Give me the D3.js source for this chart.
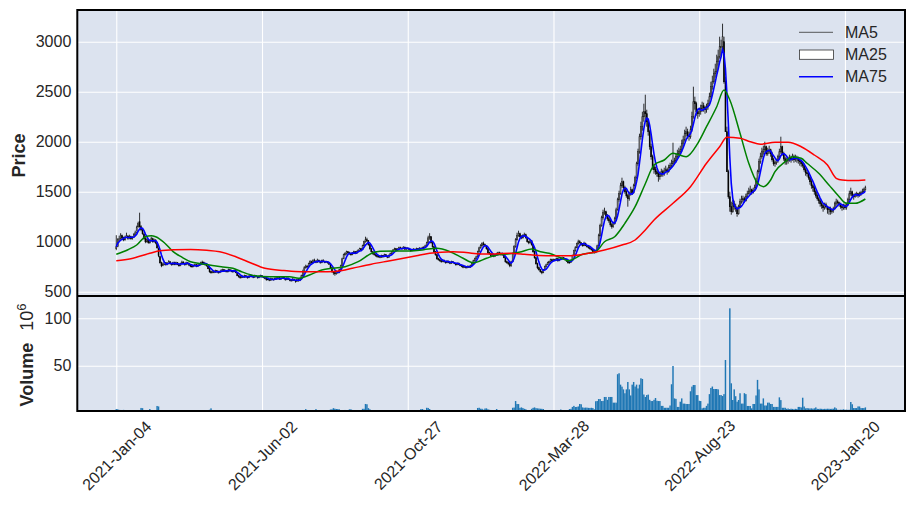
<!DOCTYPE html>
<html><head><meta charset="utf-8">
<script src="https://cdn.jsdelivr.net/npm/d3@7"></script>
<style>body{margin:0;background:#fff;} text{font-family:"Liberation Sans",Arial,sans-serif;}</style>
</head><body><svg id="c" width="914" height="506"></svg>
<script>
const dateTicks = ["2021-Jan-04","2021-Jun-02","2021-Oct-27","2022-Mar-28","2022-Aug-23","2023-Jan-20"];
const dateTickIdx = [0,100,200,300,400,500];
const priceTicks = [500,1000,1500,2000,2500,3000];
const volTicks = [50,100];
const legendLabels = ["MA5","MA25","MA75"];

const open = [
930,955,1025,1030,1060,1040,1020,1045,1055,1040,
1050,1030,1045,1070,1095,1150,1200,1150,1115,1075,
1030,1000,1020,990,1010,1030,1000,1015,985,935,
850,790,765,775,790,770,785,800,780,770,
790,775,790,770,760,780,795,785,770,790,
780,765,755,750,760,770,755,765,775,790,
795,780,770,755,730,700,690,705,695,710,
700,690,700,715,720,705,710,700,720,715,
705,700,710,690,660,650,640,655,645,660,
650,640,655,665,650,645,660,650,640,655,
660,650,640,635,620,625,615,630,620,625,
635,630,640,625,635,645,630,620,635,625,
615,610,625,615,605,620,610,630,660,700,
740,755,750,780,800,790,810,805,795,815,
800,790,810,805,795,800,790,775,740,700,
690,680,700,690,720,760,830,870,880,900,
890,880,870,890,900,885,900,915,930,920,
960,1000,1020,1010,970,930,900,880,870,860,
850,855,845,860,850,870,855,845,865,880,
900,920,930,915,925,940,935,930,945,925,
935,930,920,910,915,925,920,930,925,935,
930,940,945,960,990,1040,1050,990,950,900,
870,830,820,810,800,815,800,790,805,795,
785,800,790,780,770,785,770,760,755,745,
750,740,755,745,760,780,810,830,850,900,
940,960,980,970,960,930,890,880,860,870,
855,870,880,890,885,870,880,840,800,790,
780,760,800,880,950,1020,1060,1080,1050,1040,
1060,1070,1040,1000,990,1010,970,900,840,780,
740,720,700,690,720,750,770,790,800,820,
810,820,815,830,810,825,835,840,830,820,
805,790,795,810,860,910,940,980,1000,990,
970,960,985,960,950,940,930,920,900,895,
900,960,1060,1160,1240,1290,1300,1260,1230,1210,
1170,1150,1180,1230,1320,1420,1480,1560,1600,1540,
1500,1460,1430,1480,1520,1490,1560,1640,1780,1900,
2050,2150,2250,2300,2280,2200,2100,1950,1850,1750,
1720,1700,1680,1650,1670,1700,1680,1710,1720,1700,
1740,1760,1780,1800,1810,1850,1880,1900,1920,1980,
2020,2080,2100,2060,2050,2120,2250,2400,2380,2300,
2280,2300,2330,2360,2340,2320,2350,2380,2450,2550,
2600,2680,2700,2800,2850,2950,2950,3000,2600,2100,
1700,1450,1350,1300,1380,1350,1330,1280,1350,1400,
1420,1430,1410,1450,1480,1500,1520,1490,1510,1540,
1600,1700,1800,1850,1900,1920,1950,1880,1900,1920,
1880,1820,1780,1790,1810,1850,1900,1950,1880,1830,
1800,1810,1820,1840,1830,1850,1820,1840,1830,1810,
1800,1780,1760,1720,1690,1680,1640,1600,1560,1540,
1500,1460,1430,1410,1380,1360,1340,1370,1350,1320,
1330,1300,1310,1330,1380,1400,1390,1370,1350,1340,
1360,1340,1370,1420,1480,1500,1460,1450,1470,1480,
1460,1480,1490,1500,1520];

const high = [
1065,1035,1060,1085,1070,1050,1060,1090,1065,1070,
1060,1055,1085,1110,1160,1200,1290,1165,1130,1090,
1045,1035,1030,1020,1050,1040,1030,1025,995,940,
860,800,790,800,795,795,815,805,790,800,
800,800,795,780,790,810,805,790,800,795,
790,775,765,770,780,775,775,785,800,810,
800,790,775,760,735,710,715,710,720,715,
710,710,725,730,725,720,715,730,725,720,
715,720,715,695,670,660,665,660,670,665,
660,665,675,670,655,670,665,655,665,670,
665,655,650,640,635,630,640,635,630,645,
645,650,645,640,655,650,635,640,640,630,
620,635,630,620,630,625,640,670,720,755,
770,765,790,815,810,825,830,815,830,820,
810,820,825,810,810,805,795,780,745,705,
700,710,705,730,770,840,880,895,910,905,
900,885,895,910,905,910,925,940,935,970,
1010,1050,1040,1015,975,935,905,890,875,865,
865,860,870,865,880,875,860,870,890,905,
925,940,935,935,950,950,940,955,950,945,
945,935,925,925,935,930,940,935,945,940,
950,955,970,1000,1060,1085,1055,995,955,905,
875,840,830,815,825,820,805,815,810,800,
810,805,795,785,790,790,775,765,760,760,
755,760,760,770,790,820,840,860,910,950,
975,995,1000,980,965,935,900,885,880,875,
880,890,900,900,890,890,885,845,810,800,
790,810,890,965,1035,1090,1110,1090,1065,1075,
1090,1080,1050,1010,1020,1015,975,910,845,790,
750,725,710,725,760,780,800,810,830,830,
830,830,840,835,830,845,850,845,835,825,
810,805,820,870,920,955,990,1020,1015,995,
980,1000,990,965,955,950,935,925,910,910,
970,1080,1180,1260,1320,1340,1310,1275,1250,1220,
1190,1200,1250,1340,1440,1510,1590,1640,1610,1560,
1520,1480,1500,1550,1530,1580,1660,1800,1930,2080,
2200,2300,2380,2470,2320,2220,2120,1980,1870,1780,
1750,1730,1700,1700,1730,1720,1740,1760,1740,1770,
1790,1820,1990,1840,1880,1920,1940,1960,2020,2060,
2120,2150,2130,2100,2160,2300,2550,2450,2400,2330,
2340,2370,2400,2390,2360,2380,2420,2490,2600,2660,
2730,2780,2870,2920,3050,3020,3180,3050,2650,2150,
1720,1500,1400,1420,1410,1380,1350,1370,1430,1460,
1460,1450,1480,1510,1540,1560,1530,1540,1570,1640,
1720,1830,1890,1940,1960,2000,1960,1940,1960,1930,
1900,1840,1810,1830,1870,1930,2050,1960,1900,1850,
1840,1850,1870,1860,1880,1870,1870,1860,1850,1830,
1820,1800,1780,1740,1720,1700,1660,1620,1580,1560,
1520,1480,1450,1420,1400,1380,1390,1390,1360,1350,
1350,1330,1350,1400,1430,1420,1400,1390,1370,1380,
1380,1390,1440,1510,1540,1510,1480,1490,1500,1490,
1500,1510,1530,1540,1560];

const low = [
915,945,1000,1020,1025,1005,1010,1035,1020,1025,
1020,1020,1040,1060,1085,1140,1140,1105,1070,1020,
985,990,980,980,1000,990,990,975,930,845,
780,745,755,765,760,765,780,770,760,765,
765,765,765,750,755,775,780,760,765,770,
755,745,740,745,755,745,750,760,770,785,
770,760,750,725,690,680,685,685,690,690,
680,685,695,705,700,695,690,695,705,695,
690,695,685,655,640,630,635,640,640,640,
630,635,650,645,635,640,645,630,635,650,
645,635,625,610,615,605,610,615,610,620,
620,625,620,620,630,625,610,615,620,605,
600,605,610,590,600,600,605,625,650,690,
730,735,745,775,780,785,795,785,790,795,
780,785,795,785,790,780,770,730,690,670,
660,670,680,685,715,755,825,860,870,880,
870,860,865,885,875,880,895,910,910,915,
955,990,995,960,920,890,870,860,850,840,
840,835,840,840,845,850,835,840,860,875,
895,915,905,910,920,925,920,925,920,920,
925,915,900,905,910,910,915,915,920,920,
925,935,940,955,985,1020,980,940,890,860,
820,810,800,790,795,790,780,785,785,775,
780,785,775,760,765,765,755,745,735,740,
730,735,740,740,755,775,800,825,845,895,
930,950,960,945,920,880,870,850,855,845,
850,860,870,875,860,860,835,790,780,765,
745,750,795,870,940,1010,1050,1040,1025,1030,
1050,1030,990,975,980,960,890,830,770,725,
710,690,675,685,715,745,765,780,795,800,
805,805,810,800,805,820,825,825,815,800,
780,780,790,805,855,900,935,970,980,960,
950,955,955,940,930,920,910,890,880,885,
895,955,1050,1150,1220,1270,1250,1210,1190,1150,
1130,1140,1170,1220,1310,1400,1470,1540,1520,1480,
1440,1350,1410,1460,1470,1480,1550,1630,1760,1880,
2020,2110,2200,2220,2150,2060,1920,1820,1720,1680,
1670,1650,1600,1620,1650,1650,1660,1690,1670,1690,
1720,1740,1760,1770,1790,1830,1850,1870,1900,1950,
2000,2050,2030,2010,2030,2100,2230,2320,2260,2230,
2250,2270,2300,2300,2280,2290,2320,2360,2430,2520,
2580,2640,2680,2760,2830,2860,2920,2580,2100,1700,
1430,1300,1270,1290,1320,1300,1250,1270,1340,1380,
1390,1390,1400,1440,1470,1480,1470,1480,1500,1530,
1590,1680,1780,1830,1870,1890,1860,1860,1880,1850,
1800,1760,1750,1770,1790,1830,1880,1860,1810,1770,
1770,1780,1800,1790,1810,1790,1800,1790,1780,1760,
1750,1740,1700,1660,1650,1620,1570,1530,1500,1470,
1440,1410,1380,1350,1330,1300,1320,1330,1280,1270,
1270,1280,1290,1320,1360,1370,1350,1330,1310,1320,
1320,1320,1360,1410,1460,1440,1420,1440,1450,1440,
1450,1460,1480,1490,1510];

const close = [
950,1020,1030,1065,1040,1020,1045,1060,1035,1050,
1030,1045,1070,1090,1140,1180,1150,1120,1080,1030,
1000,1020,990,1010,1030,1000,1015,990,940,860,
790,760,775,790,770,785,800,780,770,790,
775,790,770,760,780,795,785,770,790,780,
765,755,750,760,770,755,765,775,790,795,
780,770,760,730,700,690,705,695,710,700,
690,700,715,720,705,710,700,720,715,705,
700,710,690,660,650,640,655,645,660,650,
640,655,665,650,645,660,650,640,655,660,
650,640,635,620,625,615,630,620,625,635,
630,640,625,635,645,630,620,635,625,615,
610,625,615,605,620,610,630,660,700,740,
755,750,780,800,790,810,805,795,815,800,
790,810,805,795,800,790,775,740,700,690,
680,700,690,720,760,830,870,880,900,890,
880,870,890,900,885,900,915,930,920,960,
1000,1020,1010,970,930,900,880,870,860,850,
855,845,860,850,870,855,845,865,880,900,
920,930,915,925,940,935,930,945,925,935,
930,920,910,915,925,920,930,925,935,930,
940,945,960,990,1040,1050,990,950,900,870,
830,820,810,800,815,800,790,805,795,785,
800,790,780,770,785,770,760,755,745,750,
740,755,745,760,780,810,830,850,900,940,
960,980,970,960,930,890,880,860,870,855,
870,880,890,885,870,880,840,800,790,780,
760,800,880,950,1020,1060,1080,1050,1040,1060,
1070,1040,1000,990,1010,970,900,840,780,740,
720,700,690,720,750,770,790,800,820,810,
820,815,830,810,825,835,840,830,820,805,
790,795,810,860,910,940,980,1000,990,970,
960,985,960,950,940,930,920,900,895,900,
960,1060,1160,1240,1290,1300,1260,1230,1210,1170,
1150,1180,1230,1320,1420,1480,1560,1600,1540,1500,
1460,1430,1480,1520,1490,1560,1640,1780,1900,2050,
2150,2250,2300,2280,2200,2100,1950,1850,1750,1720,
1700,1680,1650,1670,1700,1680,1710,1720,1700,1740,
1760,1780,1800,1810,1850,1880,1900,1920,1980,2020,
2080,2100,2060,2050,2120,2250,2400,2380,2300,2280,
2300,2330,2360,2340,2320,2350,2380,2450,2550,2600,
2680,2700,2800,2850,2950,2950,3050,2600,2100,1700,
1450,1350,1300,1380,1350,1330,1280,1350,1400,1420,
1430,1410,1450,1480,1500,1520,1490,1510,1540,1600,
1700,1800,1850,1900,1920,1950,1880,1900,1920,1880,
1820,1780,1790,1810,1850,1900,1950,1880,1830,1800,
1810,1820,1840,1830,1850,1820,1840,1830,1810,1800,
1780,1760,1720,1690,1680,1640,1600,1560,1540,1500,
1460,1430,1410,1380,1360,1340,1370,1350,1320,1330,
1300,1310,1330,1380,1400,1390,1370,1350,1340,1360,
1340,1370,1420,1480,1500,1460,1450,1470,1480,1460,
1480,1490,1500,1520,1540];

const volume = [
4.2,4.0,3.4,3.3,3.2,3.4,3.1,3.0,1.8,1.6,
1.5,1.7,1.9,2.0,2.1,1.9,2.0,5.4,5.2,3.0,
1.8,1.6,2.0,4.3,3.0,1.7,1.5,1.9,7.5,7.0,
3.2,3.0,3.1,3.0,2.9,1.8,1.6,1.5,1.7,1.9,
3.0,2.9,1.7,1.5,1.6,3.0,1.8,1.5,1.6,3.1,
3.0,3.0,1.8,1.5,1.4,1.6,1.5,1.3,1.7,1.8,
1.6,1.4,1.5,1.9,3.5,5.0,2.0,3.0,1.6,1.4,
1.3,1.5,1.4,1.6,1.5,1.3,1.4,1.6,3.0,1.5,
1.4,1.3,1.5,1.8,1.9,3.2,3.0,3.0,1.6,1.4,
1.3,1.2,1.4,1.5,1.3,1.2,1.4,1.3,1.5,1.4,
1.3,1.2,1.4,1.6,1.5,1.3,1.2,1.4,1.3,1.5,
1.4,1.3,1.2,1.4,1.5,1.3,1.6,1.4,1.3,1.5,
1.6,1.4,1.3,1.8,1.5,1.4,1.7,2.0,3.0,3.2,
4.2,3.3,3.0,2.0,1.8,2.1,3.0,4.2,3.2,3.0,
2.0,1.8,1.9,1.7,1.8,2.1,3.0,3.8,4.0,5.2,
4.6,4.3,4.2,4.0,3.0,3.2,3.0,3.3,3.2,3.0,
4.0,4.0,3.3,3.2,2.0,1.9,1.8,2.0,2.1,4.5,
4.5,9.6,9.3,5.2,4.0,3.2,3.0,2.0,1.8,1.6,
1.7,1.5,1.6,1.4,1.5,1.8,1.6,1.5,1.7,1.9,
2.0,1.8,3.0,1.7,1.6,1.5,1.4,1.6,1.5,1.8,
3.0,3.0,3.0,1.9,1.7,1.6,1.8,1.9,2.0,4.2,
4.3,3.5,2.0,5.6,5.4,4.3,3.2,3.0,2.0,3.0,
3.0,3.0,1.9,1.8,1.6,1.5,1.7,1.6,1.4,1.5,
1.6,1.5,1.4,1.3,1.5,1.6,1.7,1.5,1.6,1.8,
1.7,1.6,1.9,2.0,2.1,2.0,1.9,2.1,5.4,5.6,
4.6,4.5,3.5,4.8,5.0,4.0,3.5,3.3,3.2,2.0,
3.0,4.3,1.8,1.9,2.0,3.0,1.9,1.8,2.0,2.1,
2.0,2.1,5.6,5.8,12.7,9.6,9.5,5.5,6.0,5.3,
4.5,4.0,2.0,2.1,2.0,4.5,5.5,6.0,5.2,5.0,
4.8,4.6,4.5,4.3,2.0,3.0,3.1,3.0,3.2,3.0,
3.1,3.0,3.2,3.0,2.9,3.8,3.0,3.1,3.0,3.2,
3.0,4.3,4.5,6.5,7.6,6.4,6.5,7.0,9.6,9.3,
6.0,5.6,5.8,5.7,5.5,5.4,5.6,5.3,4.0,12.5,
12.7,14.8,14.8,12.7,12.8,17.0,17.0,14.0,17.0,17.0,
17.0,11.0,11.0,11.0,41.0,42.0,30.0,27.9,25.0,20.9,
25.0,32.8,25.0,18.6,30.0,32.8,28.0,30.0,26.0,30.0,
36.7,36.0,19.6,17.0,19.0,19.5,14.0,12.7,12.7,14.0,
15.9,13.0,12.7,12.7,7.6,7.6,5.6,5.6,5.6,5.6,
8.0,30.4,49.7,15.5,15.0,6.5,6.5,12.0,15.5,10.0,
10.0,9.6,9.6,9.6,23.0,27.9,29.6,29.6,19.0,19.0,
13.0,12.7,5.0,5.6,5.6,7.6,10.0,20.0,26.5,28.0,
25.4,25.4,25.4,25.0,19.0,19.0,18.0,20.0,56.0,1.0,
1.0,110.5,31.4,13.8,25.0,17.8,12.0,13.8,20.9,10.0,
10.0,21.0,20.0,7.5,7.5,7.5,5.0,9.6,9.6,18.6,
35.0,25.0,10.0,10.0,15.5,8.0,8.0,11.0,11.0,9.6,
9.6,6.5,6.5,6.5,6.5,16.6,13.7,5.6,5.6,5.6,
4.5,4.8,4.2,4.6,4.4,4.0,4.5,4.3,6.5,6.5,
6.0,16.2,6.9,5.0,5.2,5.0,4.8,5.0,4.6,5.0,
6.0,4.5,4.4,4.6,4.5,4.3,4.5,4.4,4.6,4.5,
4.4,4.5,4.6,6.0,5.0,3.5,3.4,3.6,3.5,4.0,
3.5,3.6,3.4,3.5,11.7,9.3,5.3,5.3,5.3,7.0,
7.0,5.3,5.3,5.3,6.0];

// MA25 / MA75 at key trading-day indices
const ma25Idx = [0,8,14,20,24,27,33,39,45,51,58,64,72,80,86,95,105,119,125,133,141,149,157,166,176,181,192,202,211,220,229,238,245,254,261,270,278,285,291,297,304,310,320,329,335,342,349,356,363,369,376,382,391,399,405,412,417,421,428,434,440,444,449,452,459,464,470,474,482,489,495,501,507,514];
const ma25Val = [874,920,967,1050,1060,1050,990,900,845,800,780,767,750,734,700,660,650,650,634,670,717,735,750,800,890,905,907,907,920,934,900,834,790,834,867,880,900,927,900,884,845,810,874,900,1000,1050,1184,1350,1580,1767,1817,1884,1850,1984,2150,2350,2517,2417,2084,1784,1584,1550,1617,1700,1800,1850,1834,1784,1684,1567,1467,1384,1384,1427];
const ma75Idx = [0,10,23,30,40,51,62,71,82,92,102,115,127,145,155,162,175,186,197,206,215,231,240,250,260,270,280,290,300,312,324,335,347,356,363,369,382,394,405,414,419,428,435,442,452,461,470,479,488,494,498,506,514];
const ma75Val = [810,830,884,910,920,923,915,900,850,790,734,712,700,700,712,734,775,805,834,860,884,900,892,877,878,884,875,862,860,860,884,917,967,1017,1117,1217,1384,1550,1784,1950,2044,2034,2000,1975,1994,1994,1950,1867,1767,1634,1617,1612,1617];

const N = close.length;
const lens = [open.length, high.length, low.length, close.length, volume.length];
if (lens.some(l => l !== N)) throw new Error("length mismatch " + lens.join(","));
if (ma25Idx.length !== ma25Val.length || ma75Idx.length !== ma75Val.length) throw new Error("ma mismatch");

// MA5 computed from closes (rolling mean)
const ma5 = close.map((c, i) => d3.mean(close.slice(Math.max(0, i - 4), i + 1)));

const svg = d3.select("#c");
const L = 77.3, R = 905, T = 10, MID = 296, B = 411;
const W = R - L;
const bg = "#dce3ef";

const x = d3.scaleLinear().domain([-26.75, 541.2]).range([L, R]);
const yP = d3.scaleLinear().domain([457, 3317]).range([MID, T]);
const yV = d3.scaleLinear().domain([2.2, 123.5]).range([B, MID]);

const defs = svg.append("defs");
defs.append("clipPath").attr("id", "cp").append("rect").attr("x", L).attr("y", T).attr("width", W).attr("height", MID - T);
defs.append("clipPath").attr("id", "cv").append("rect").attr("x", L).attr("y", MID).attr("width", W).attr("height", B - MID);

svg.append("rect").attr("x", L).attr("y", T).attr("width", W).attr("height", B - T).attr("fill", bg);

// gridlines
const gridStyle = g => { g.select(".domain").remove(); g.selectAll("line").attr("stroke", "#fff").attr("stroke-width", 1.1); g.selectAll("text").remove(); };
svg.append("g").attr("transform", `translate(${L},0)`).call(d3.axisLeft(yP).tickValues(priceTicks).tickSize(-W)).call(gridStyle);
svg.append("g").attr("transform", `translate(${L},0)`).call(d3.axisLeft(yV).tickValues(volTicks).tickSize(-W)).call(gridStyle);
svg.append("g").attr("transform", `translate(0,${MID})`).call(d3.axisBottom(x).tickValues(dateTickIdx).tickSize(-(MID - T))).call(gridStyle);
svg.append("g").attr("transform", `translate(0,${B})`).call(d3.axisBottom(x).tickValues(dateTickIdx).tickSize(-(B - MID))).call(gridStyle);

// candles
const cg = svg.append("g").attr("clip-path", "url(#cp)");
const idx = d3.range(N);
cg.selectAll("line.w").data(idx).join("line")
  .attr("x1", i => x(i)).attr("x2", i => x(i))
  .attr("y1", i => yP(Math.max(high[i], open[i], close[i])))
  .attr("y2", i => yP(Math.min(low[i], open[i], close[i])))
  .attr("stroke", "#000").attr("stroke-width", 0.8);
cg.selectAll("rect.b").data(idx).join("rect")
  .attr("x", i => x(i) - 0.45).attr("width", 0.9)
  .attr("y", i => yP(Math.max(open[i], close[i])))
  .attr("height", i => Math.max(0.6, Math.abs(yP(open[i]) - yP(close[i]))))
  .attr("fill", i => close[i] >= open[i] ? "#fff" : "#000")
  .attr("stroke", "#000").attr("stroke-width", 0.6);

// moving averages
const lineIdx = d3.line().x((d) => x(d[0])).y(d => yP(d[1]));
cg.append("path").datum(ma5.map((v, i) => [i, v])).attr("d", lineIdx)
  .attr("fill", "none").attr("stroke", "#0000ff").attr("stroke-width", 1.6);
cg.append("path").datum(ma25Idx.map((d, i) => [d, ma25Val[i]])).attr("d", lineIdx.curve(d3.curveMonotoneX))
  .attr("fill", "none").attr("stroke", "#008000").attr("stroke-width", 1.5);
cg.append("path").datum(ma75Idx.map((d, i) => [d, ma75Val[i]])).attr("d", lineIdx.curve(d3.curveMonotoneX))
  .attr("fill", "none").attr("stroke", "#ff0000").attr("stroke-width", 1.5);

// volume
svg.append("g").attr("clip-path", "url(#cv)").selectAll("rect").data(idx).join("rect")
  .attr("x", i => x(i) - 0.72).attr("width", 1.45)
  .attr("y", i => Math.min(B, yV(volume[i])))
  .attr("height", i => Math.max(0, B - yV(volume[i])))
  .attr("fill", "#1f77b4");

// frames
svg.append("rect").attr("x", L).attr("y", T).attr("width", W).attr("height", B - T)
  .attr("fill", "none").attr("stroke", "#000").attr("stroke-width", 2);
svg.append("line").attr("x1", L).attr("x2", R).attr("y1", MID).attr("y2", MID).attr("stroke", "#000").attr("stroke-width", 2);

// axes labels
const tickText = g => { g.select(".domain").remove(); g.selectAll("line").remove(); g.selectAll("text").attr("fill", "#262626").style("font-size", "16px").style("font-family", "'Liberation Sans', Arial, sans-serif"); };
svg.append("g").attr("transform", `translate(${L},0)`).call(d3.axisLeft(yP).tickValues(priceTicks).tickFormat(d3.format("d")).tickSize(0).tickPadding(6)).call(tickText);
svg.append("g").attr("transform", `translate(${L},0)`).call(d3.axisLeft(yV).tickValues(volTicks).tickFormat(d3.format("d")).tickSize(0).tickPadding(6)).call(tickText);
const xa = svg.append("g").attr("transform", `translate(0,${B})`)
  .call(d3.axisBottom(x).tickValues(dateTickIdx).tickFormat((d, i) => dateTicks[i]).tickSize(0)).call(tickText);
xa.selectAll("text").attr("y", 0).attr("dy", null).attr("dominant-baseline", "central")
  .attr("text-anchor", "middle").attr("transform", "translate(0,44.5) rotate(-45)");

svg.append("text").attr("transform", "translate(25,155.5) rotate(-90)").attr("text-anchor", "middle")
  .style("font-size", "18px").style("font-weight", "bold").attr("fill", "#262626").text("Price");
const vl = svg.append("text").attr("transform", "translate(33,355) rotate(-90)").attr("text-anchor", "middle")
  .style("font-size", "18px").attr("fill", "#262626");
vl.append("tspan").style("font-weight", "bold").text("Volume");
vl.append("tspan").attr("dx", 12).text("10");
vl.append("tspan").attr("dy", -7).style("font-size", "13px").text("6");

// legend
const lg = svg.append("g");
const ly = [32.3, 54.7, 76.7];
lg.append("line").attr("x1", 799).attr("x2", 833).attr("y1", ly[0]).attr("y2", ly[0]).attr("stroke", "#333").attr("stroke-width", 0.8);
lg.append("rect").attr("x", 799.5).attr("y", 50).attr("width", 34).attr("height", 9.3).attr("fill", "#fff").attr("stroke", "#333").attr("stroke-width", 0.8);
lg.append("line").attr("x1", 799).attr("x2", 833).attr("y1", ly[2]).attr("y2", ly[2]).attr("stroke", "#0000ff").attr("stroke-width", 1.6);
lg.selectAll("text").data(legendLabels).join("text").attr("x", 845).attr("y", (d, i) => ly[i])
  .attr("dominant-baseline", "central").style("font-size", "16px").attr("fill", "#262626").text(d => d);
</script></body></html>
